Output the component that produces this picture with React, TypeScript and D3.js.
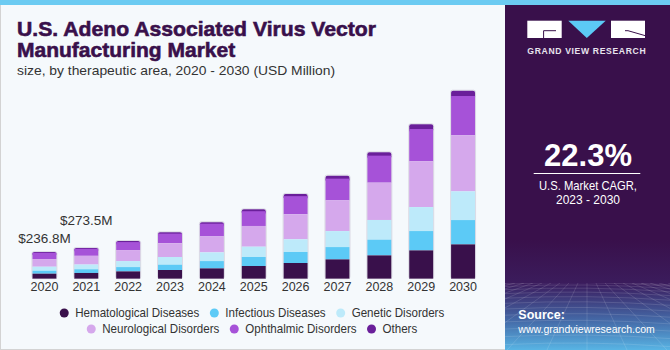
import React, { useRef, useEffect } from 'react';
import { select, scaleBand, scaleLinear, stack, max, sum, axisBottom } from 'd3';

const years = ['2020', '2021', '2022', '2023', '2024', '2025', '2026', '2027', '2028', '2029', '2030'];
const hematological = [44.5, 51, 65, 77.4, 91.7, 113, 139.7, 171.8, 207.4, 251.9, 305.3];
const infectious = [26.5, 33, 38.3, 47.2, 65, 80.1, 97.9, 109.5, 139.7, 171.8, 216.3];
const genetic = [35.5, 42, 53.4, 68.5, 77.4, 91.7, 113, 142.4, 175.3, 213.6, 255.4];
const neurological = [68.3, 77.5, 97.9, 121.9, 142.4, 184.2, 222.5, 273.2, 332, 406.7, 498.4];
const ophthalmic = [55.7, 62.5, 71.2, 86.3, 113, 131.3, 161.2, 193.1, 240.3, 287.5, 349.8];
const others = [6.3, 7.5, 8.9, 11.6, 13.5, 16.5, 19.5, 26.7, 29.4, 41.8, 47.2];

const seriesNames = [
    'Hematological Diseases',
    'Infectious Diseases',
    'Genetic Disorders',
    'Neurological Disorders',
    'Ophthalmic Disorders',
    'Others',
];
const seriesColors = ['#39104b', '#5ccaf6', '#bdeafa', '#d5a8ec', '#a652d8', '#6a1f9a'];
const labeledYears = ['2020', '2021'];

const W = 670;
const H = 350;
const DARK = '#39104b';

export default function App() {
    const svgRef: { current: SVGSVGElement | null } = useRef(null);

    useEffect(() => {
        const svg = select(svgRef.current);
        svg.selectAll('*').remove();

        const keys = ['h', 'i', 'g', 'n', 'o', 'x'];
        const rows = years.map((year, i) => ({
            year,
            h: hematological[i],
            i: infectious[i],
            g: genetic[i],
            n: neurological[i],
            o: ophthalmic[i],
            x: others[i],
        }));
        const layers = stack<any>().keys(keys)(rows);
        const totals = rows.map((r: any) => sum(keys, (k) => r[k]));

        // backgrounds
        const defs = svg.append('defs');
        const grad = defs.append('linearGradient').attr('id', 'foot').attr('x1', 0).attr('y1', 0).attr('x2', 0).attr('y2', 1);
        grad.append('stop').attr('offset', '0%').attr('stop-color', '#3a1a5c');
        grad.append('stop').attr('offset', '55%').attr('stop-color', '#4468a6');
        grad.append('stop').attr('offset', '100%').attr('stop-color', '#58b4e4');
        const fade = defs.append('linearGradient').attr('id', 'fade').attr('x1', 0).attr('y1', 0).attr('x2', 0).attr('y2', 1);
        fade.append('stop').attr('offset', '0%').attr('stop-color', DARK);
        fade.append('stop').attr('offset', '100%').attr('stop-color', '#3b1c5c');
        defs.append('clipPath').attr('id', 'footclip').append('rect').attr('x', 505).attr('y', 283).attr('width', 165).attr('height', 67);

        svg.append('rect').attr('width', W).attr('height', H).attr('fill', '#f5f9fc');
        svg.append('rect').attr('x', 0.5).attr('y', 0.5).attr('width', W - 1).attr('height', H - 1)
            .attr('fill', 'none').attr('stroke', '#d3d3d3');
        svg.append('rect').attr('x', 505).attr('y', 0).attr('width', 165).attr('height', H).attr('fill', DARK);
        svg.append('rect').attr('x', 505).attr('y', 240).attr('width', 165).attr('height', 43).attr('fill', 'url(#fade)');
        svg.append('rect').attr('x', 505).attr('y', 283).attr('width', 165).attr('height', 67).attr('fill', 'url(#foot)');
        svg.append('rect').attr('x', 0).attr('y', 0).attr('width', W).attr('height', 5).attr('fill', '#6ccbf2');

        // perspective grid at the foot of the side panel
        const grid = svg.append('g').attr('clip-path', 'url(#footclip)')
            .attr('stroke', '#ffffff').attr('stroke-opacity', 0.18).attr('stroke-width', 0.7).attr('fill', 'none');
        for (let k = 0; k < 14; k++) {
            const yy = 283 + Math.pow(k / 13, 1.6) * 70;
            grid.append('path').attr('d', `M505,${yy} Q587,${yy - 4} 670,${yy + 2}`);
        }
        for (let k = -12; k <= 12; k++) {
            grid.append('line').attr('x1', 587 + k * 9).attr('y1', 283).attr('x2', 587 + k * 40).attr('y2', 350);
        }

        // title
        svg.append('text').attr('x', 17).attr('y', 36).text('U.S. Adeno Associated Virus Vector')
            .attr('font-family', 'Liberation Sans, Arial, sans-serif').attr('font-weight', 700).attr('font-size', 21)
            .attr('fill', DARK).attr('stroke', DARK).attr('stroke-width', 0.6)
            .attr('textLength', 359).attr('lengthAdjust', 'spacingAndGlyphs');
        svg.append('text').attr('x', 17).attr('y', 56.7).text('Manufacturing Market')
            .attr('font-family', 'Liberation Sans, Arial, sans-serif').attr('font-weight', 700).attr('font-size', 21)
            .attr('fill', DARK).attr('stroke', DARK).attr('stroke-width', 0.6);
        svg.append('text').attr('x', 17).attr('y', 74.5).text('size, by therapeutic area, 2020 - 2030 (USD Million)')
            .attr('font-family', 'Liberation Sans, Arial, sans-serif').attr('font-size', 13.5).attr('fill', '#333')
            .attr('textLength', 318).attr('lengthAdjust', 'spacingAndGlyphs');

        // scales
        const xScale: any = scaleBand().domain(years).range([11.5, 496]).paddingInner(0.427).paddingOuter(0.5);
        const yScale: any = scaleLinear().domain([0, max(totals) || 1]).range([278.7, 90.7]);

        // bars, topmost layer first so its rounded cap is overlapped below
        const barG = svg.append('g');
        [...layers].reverse().forEach((layer: any) => {
            const idx = keys.indexOf(layer.key);
            const isTop = idx === keys.length - 1;
            barG.append('g').selectAll('rect')
                .data(layer)
                .join('rect')
                .attr('x', (d: any) => xScale(d.data.year))
                .attr('width', xScale.bandwidth())
                .attr('y', (d: any) => yScale(d[1]))
                .attr('height', (d: any) => yScale(d[0]) - yScale(d[1]) + (isTop ? 3 : 0))
                .attr('rx', isTop ? 2 : 0)
                .attr('fill', seriesColors[idx]);
        });
        // faint outline
        barG.append('g').selectAll('rect')
            .data(rows)
            .join('rect')
            .attr('x', (d: any) => xScale(d.year) - 0.5)
            .attr('width', xScale.bandwidth() + 1)
            .attr('y', (d: any, i: number) => yScale(totals[i]) - 0.5)
            .attr('height', (d: any, i: number) => yScale(0) - yScale(totals[i]) + 0.5)
            .attr('rx', 2)
            .attr('fill', 'none')
            .attr('stroke', '#9a8aa8')
            .attr('stroke-opacity', 0.35)
            .attr('stroke-width', 0.8);

        // value labels (2021 lifted to clear 2020's)
        labeledYears.forEach((year, j) => {
            const i = years.indexOf(year);
            svg.append('text')
                .attr('x', xScale(year) + xScale.bandwidth() / 2)
                .attr('y', yScale(totals[i]) - (j === 0 ? 9 : 22.5))
                .attr('text-anchor', 'middle')
                .attr('font-family', 'Liberation Sans, Arial, sans-serif')
                .attr('font-size', 13.5)
                .attr('fill', '#333')
                .text(`$${totals[i].toFixed(1)}M`);
        });

        // x axis
        const axis = svg.append('g').attr('transform', `translate(0,${yScale(0)})`)
            .call(axisBottom(xScale).tickSize(0).tickPadding(3));
        axis.select('.domain').remove();
        axis.selectAll('text')
            .attr('font-family', 'Liberation Sans, Arial, sans-serif')
            .attr('font-size', 12.5)
            .attr('fill', '#333');

        // legend
        const legendRows = [[0, 1, 2], [3, 4, 5]];
        legendRows.forEach((row, r) => {
            const g = svg.append('g');
            let x = 0;
            row.forEach((i) => {
                g.append('circle').attr('cx', x + 4.5).attr('cy', -4.3).attr('r', 4.5).attr('fill', seriesColors[i]);
                const t = g.append('text').attr('x', x + 15.5).attr('y', 0).text(seriesNames[i])
                    .attr('font-family', 'Liberation Sans, Arial, sans-serif').attr('font-size', 13).attr('fill', '#333');
                const natural = (t.node() as SVGTextElement).getComputedTextLength();
                const len = natural * 0.89;
                t.attr('textLength', len).attr('lengthAdjust', 'spacingAndGlyphs');
                x += 15.5 + len + 10.5;
            });
            const total = x - 10.5;
            g.attr('transform', `translate(${252 - total / 2},${317.3 + r * 16})`);
        });

        // side panel: logo
        const logo = svg.append('g');
        logo.append('rect').attr('x', 527.3).attr('y', 20.7).attr('width', 34.4).attr('height', 17.3).attr('fill', '#fff');
        logo.append('path').attr('d', 'M556,30.7 H543.6 V38').attr('fill', 'none').attr('stroke', DARK).attr('stroke-width', 1);
        logo.append('path').attr('d', 'M568.3,20.7 H605.7 L586.8,38 Z').attr('fill', '#5ccaf6');
        logo.append('rect').attr('x', 611).attr('y', 20.7).attr('width', 34).attr('height', 17.3).attr('fill', '#fff');
        logo.append('path').attr('d', 'M625,30.7 H628 L645,35.6').attr('fill', 'none').attr('stroke', DARK).attr('stroke-width', 1);
        logo.append('text').attr('x', 527.3).attr('y', 53.6).text('GRAND VIEW RESEARCH')
            .attr('font-family', 'Liberation Sans, Arial, sans-serif').attr('font-weight', 700).attr('font-size', 8.6)
            .attr('fill', '#e8e4ee').attr('textLength', 118.4).attr('lengthAdjust', 'spacing');

        // CAGR block
        svg.append('text').attr('x', 588).attr('y', 165.7).attr('text-anchor', 'middle').text('22.3%')
            .attr('font-family', 'Liberation Sans, Arial, sans-serif').attr('font-weight', 700).attr('font-size', 31)
            .attr('fill', '#fff');
        svg.append('line').attr('x1', 533.7).attr('x2', 640.3).attr('y1', 173.5).attr('y2', 173.5)
            .attr('stroke', '#fff').attr('stroke-width', 1.2);
        svg.append('text').attr('x', 588).attr('y', 190).attr('text-anchor', 'middle').text('U.S. Market CAGR,')
            .attr('font-family', 'Liberation Sans, Arial, sans-serif').attr('font-size', 13).attr('fill', '#fff')
            .attr('textLength', 98).attr('lengthAdjust', 'spacingAndGlyphs');
        svg.append('text').attr('x', 588).attr('y', 204).attr('text-anchor', 'middle').text('2023 - 2030')
            .attr('font-family', 'Liberation Sans, Arial, sans-serif').attr('font-size', 13).attr('fill', '#fff')
            .attr('textLength', 64).attr('lengthAdjust', 'spacingAndGlyphs');

        // source
        svg.append('text').attr('x', 518.3).attr('y', 319).text('Source:')
            .attr('font-family', 'Liberation Sans, Arial, sans-serif').attr('font-weight', 700).attr('font-size', 12.5)
            .attr('fill', '#fff');
        svg.append('text').attr('x', 518.3).attr('y', 332.5).text('www.grandviewresearch.com')
            .attr('font-family', 'Liberation Sans, Arial, sans-serif').attr('font-size', 10.5).attr('fill', '#fff');
    }, []);

    return (
        <svg
            ref={svgRef}
            width={W}
            height={H}
            style={{ position: 'absolute', left: 0, top: 0, display: 'block' }}
        ></svg>
    );
}
